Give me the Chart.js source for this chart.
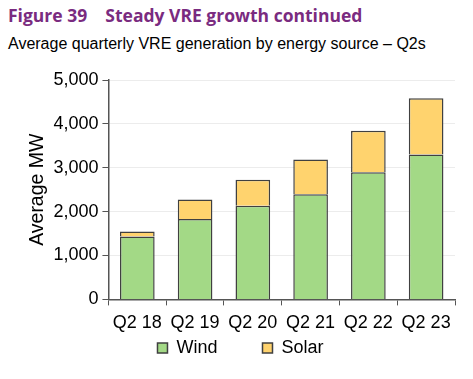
<!DOCTYPE html>
<html>
<head>
<meta charset="utf-8">
<script src="https://cdn.jsdelivr.net/npm/chart.js@4"></script>
<style>
  body { margin: 0; background: #fff; width: 473px; height: 379px; overflow: hidden; position: relative; }
  #title { position: absolute; left: 8px; top: 3px; font: bold 17.5px "Open Sans", sans-serif; color: #7a2b80; white-space: pre; }
  #subtitle { position: absolute; left: 8px; top: 35px; font: 16px "Liberation Sans", Arial, sans-serif; color: #000; }
  #wrap { position: absolute; left: 0; top: 55px; width: 473px; height: 359px; }
</style>
</head>
<body>
<div id="title">Figure 39    Steady VRE growth continued</div>
<div id="subtitle">Average quarterly VRE generation by energy source – Q2s</div>
<div id="wrap"><canvas id="chart"></canvas></div>
<script>
const quarters = ["Q2 18", "Q2 19", "Q2 20", "Q2 21", "Q2 22", "Q2 23"];
const wind = [1435, 1830, 2135, 2395, 2900, 3305];
const solar = [115, 445, 590, 795, 945, 1280];

const font = { family: "'Liberation Sans', Arial, sans-serif", size: 18 };

// legend padding also sets the gap between items, so pull the legend back up
const legendShift = {
  id: "legendShift",
  afterLayout(chart) {
    chart.legend.top -= 47;
    chart.legend.bottom -= 47;
  }
};

new Chart(document.getElementById("chart"), {
  type: "bar",
  data: {
    labels: quarters,
    datasets: [
      { label: "Wind", data: wind, backgroundColor: "#a3d986", borderColor: "#404040", borderWidth: 1.5 },
      { label: "Solar", data: solar, backgroundColor: "#ffd36e", borderColor: "#404040", borderWidth: 1.5 }
    ]
  },
  options: {
    responsive: true,
    maintainAspectRatio: false,
    animation: false,
    layout: { padding: { top: 25, right: 18, left: 26, bottom: 0 } },
    datasets: { bar: { barPercentage: 0.6, categoryPercentage: 1 } },
    plugins: {
      legend: {
        position: "bottom",
        labels: { boxWidth: 10, boxHeight: 10, color: "#000", font: font, padding: 45 }
      },
      tooltip: { enabled: false }
    },
    scales: {
      x: {
        stacked: true,
        grid: { color: "rgba(0,0,0,0)", tickColor: "#555", tickLength: 6, offset: true },
        border: { color: "#555", width: 1.5 },
        ticks: { color: "#000", font: font, padding: 7, maxRotation: 0 }
      },
      y: {
        stacked: true,
        min: 0,
        max: 5000,
        grid: { color: "#ececec", tickColor: "#555", tickLength: 6 },
        border: { color: "#555", width: 1.5 },
        ticks: { stepSize: 1000, color: "#000", font: font, padding: 4,
          callback: v => v.toLocaleString("en-US") },
        title: { display: true, text: "Average MW", color: "#000", font: { family: font.family, size: 19.5 }, padding: 0 }
      }
    }
  },
  plugins: [legendShift]
});
</script>
</body>
</html>
